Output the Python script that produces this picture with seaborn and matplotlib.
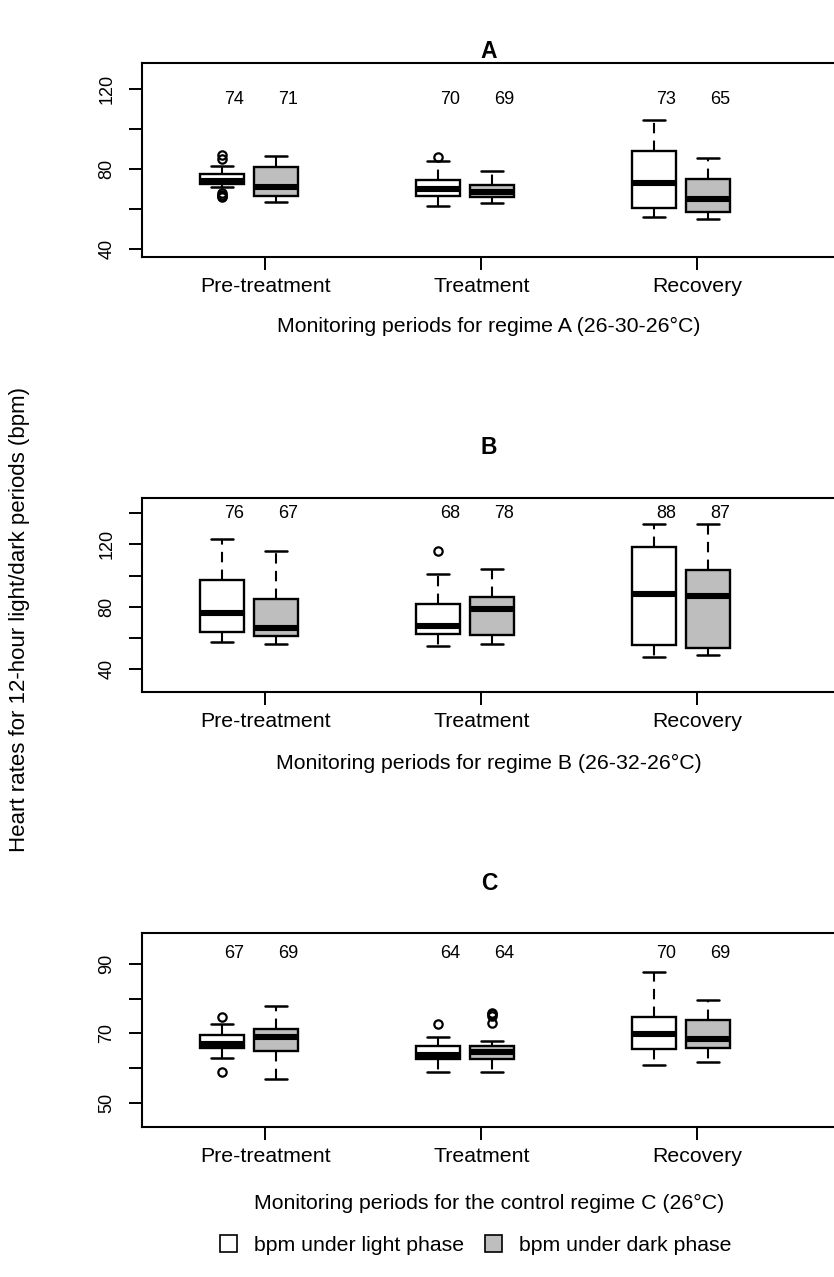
import matplotlib
matplotlib.use("Agg")
import matplotlib.pyplot as plt
import seaborn as sns
from matplotlib.patches import Patch

sns.set_style("white")
plt.rcParams['font.family'] = ['Liberation Sans', 'DejaVu Sans']
plt.rcParams['text.color'] = 'black'
plt.rcParams['xtick.color'] = 'black'
plt.rcParams['ytick.color'] = 'black'

periods = ['Pre-treatment', 'Treatment', 'Recovery']
phases = ['bpm under light phase', 'bpm under dark phase']
phase_colors = ['white', '#BEBEBE']

# box order: pre light, pre dark, treat light, treat dark, rec light, rec dark
# regime A (26-30-26)
a_med = [74, 71, 70, 68.8, 73, 65]
a_q1 = [72.6, 66.6, 66.6, 66.3, 60.8, 58.8]
a_q3 = [77.6, 81, 74.6, 72, 89, 75]
a_lo = [71, 63.8, 61.8, 63, 56, 55]
a_hi = [81.8, 86.8, 84.2, 79, 104.6, 85.8]
a_fliers = [[87, 85, 68, 67, 66.5, 66], [], [86], [], [], []]
a_labels = [74, 71, 70, 69, 73, 65]

# regime B (26-32-26)
b_med = [75.7, 66.1, 67.8, 78.5, 87.9, 87]
b_q1 = [63.9, 61.4, 62.5, 61.8, 55.4, 53.7]
b_q3 = [97.1, 84.9, 81.7, 86, 118.5, 103.5]
b_lo = [57.1, 56, 55, 56, 47.9, 49]
b_hi = [123.2, 115.9, 101, 104, 132.9, 132.9]
b_fliers = [[], [], [116], [], [], []]
b_labels = [76, 67, 68, 78, 88, 87]

# control regime C (26)
c_med = [66.9, 68.9, 63.9, 64.6, 69.9, 68.3]
c_q1 = [65.7, 64.9, 62.7, 62.7, 65.4, 65.8]
c_q3 = [69.5, 71.4, 66.5, 66.5, 74.9, 73.9]
c_lo = [62.9, 56.9, 59, 59, 60.9, 61.85]
c_hi = [72.8, 77.9, 68.9, 67.9, 87.8, 79.8]
c_fliers = [[74.9, 59], [], [72.8], [73, 75, 75.5, 76], [], []]
c_labels = [67, 69, 64, 64, 70, 69]

W, H = 834, 1277
fig = plt.figure(figsize=(W / 100, H / 100), dpi=100)


def fy(px):
    return 1 - px / H


def draw_panel(top, bottom, med, q1, q3, lo, hi, fliers, labels,
               ylim, yticks, ylabels, label_y, title, title_y, xlabel, xlabel_y):
    ax = fig.add_axes([142.3 / W, fy(bottom), (836 - 142.3) / W, (bottom - top) / H])
    stats = []
    pos = []
    for i in range(6):
        stats.append(dict(med=med[i], q1=q1[i], q3=q3[i], whislo=lo[i],
                          whishi=hi[i], fliers=fliers[i]))
        g = i // 2 + 1
        pos.append(g - 0.201 if i % 2 == 0 else g + 0.049)
    bp = ax.bxp(stats, positions=pos, widths=0.204, patch_artist=True,
                showfliers=True, manage_ticks=False,
                boxprops=dict(linewidth=1.7, edgecolor='black'),
                medianprops=dict(color='black', linewidth=4.4, solid_capstyle='butt'),
                whiskerprops=dict(color='black', linewidth=1.5, linestyle=(0, (5, 3.5))),
                capprops=dict(color='black', linewidth=1.8),
                flierprops=dict(marker='o', markerfacecolor='none', markeredgecolor='black',
                                markersize=6, markeredgewidth=1.6))
    for i, patch in enumerate(bp['boxes']):
        patch.set_facecolor(phase_colors[i % 2])
    for i in range(6):
        ax.text(pos[i] + 0.057, label_y, str(labels[i]), ha='center', va='center', fontsize=13)
    ax.set_xlim(0.4306, 3.642)
    ax.set_ylim(*ylim)
    ax.set_xticks([1, 2, 3])
    ax.set_xticklabels(periods, fontsize=15.3)
    ax.set_yticks(yticks)
    ax.set_yticklabels(ylabels, fontsize=13, rotation=90, va='center')
    ax.tick_params(axis='x', length=9.4, width=1.4, pad=5)
    ax.tick_params(axis='y', length=9.4, width=1.4, pad=10)
    ax.tick_params(left=True, bottom=True)
    for s in ['top', 'bottom', 'left']:
        ax.spines[s].set_linewidth(1.5)
        ax.spines[s].set_color('black')
    ax.spines['right'].set_visible(False)
    fig.text(489 / W, fy(title_y), title, ha='center', va='center', fontsize=16.5, fontweight='bold')
    fig.text(489 / W, fy(xlabel_y), xlabel, ha='center', va='center', fontsize=15.3)
    return ax


draw_panel(63.3, 256.7, a_med, a_q1, a_q3, a_lo, a_hi, a_fliers, a_labels,
           (36.3, 133), [40, 60, 80, 100, 120], ['40', '', '80', '', '120'], 115,
           'A', 51, 'Monitoring periods for regime A (26-30-26°C)', 326)
draw_panel(498.3, 691.7, b_med, b_q1, b_q3, b_lo, b_hi, b_fliers, b_labels,
           (25.4, 149.6), [40, 60, 80, 100, 120, 140], ['40', '', '80', '', '120', ''], 140,
           'B', 448, 'Monitoring periods for regime B (26-32-26°C)', 763)
draw_panel(933.3, 1126.7, c_med, c_q1, c_q3, c_lo, c_hi, c_fliers, c_labels,
           (43.06, 98.96), [50, 60, 70, 80, 90], ['50', '', '70', '', '90'], 93,
           'C', 883, 'Monitoring periods for the control regime C (26°C)', 1203)

fig.text(20 / W, fy(619), 'Heart rates for 12-hour light/dark periods (bpm)',
         rotation=90, ha='center', va='center', fontsize=16)

handles = [Patch(facecolor=c, edgecolor='black', linewidth=1.2) for c in phase_colors]
fig.legend(handles, phases, loc='center', bbox_to_anchor=(476 / W, fy(1245)), ncol=2,
           frameon=False, fontsize=15.3, handlelength=0.8, handleheight=0.8,
           handletextpad=0.8, columnspacing=1.0)

fig.savefig('out.png', dpi=100)
